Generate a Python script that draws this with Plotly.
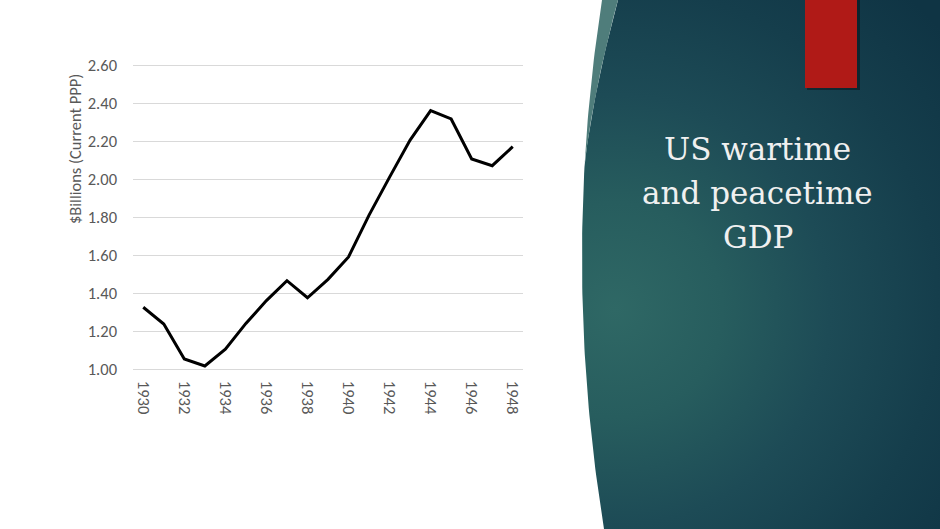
import plotly.graph_objects as go
import numpy as np

# ---------------- data ----------------
years = list(range(1930, 1949))
gdp = [1.325, 1.237, 1.053, 1.016, 1.104, 1.240, 1.360, 1.465, 1.375, 1.472,
       1.590, 1.810, 2.010, 2.205, 2.360, 2.316, 2.105, 2.070, 2.170]
year_ticks = [1930, 1932, 1934, 1936, 1938, 1940, 1942, 1944, 1946, 1948]
year_tick_labels = [str(y) for y in year_ticks]
y_ticks = [1.0, 1.2, 1.4, 1.6, 1.8, 2.0, 2.2, 2.4, 2.6]
y_tick_labels = ["1.00", "1.20", "1.40", "1.60", "1.80", "2.00", "2.20", "2.40", "2.60"]
y_title = "$Billions (Current PPP)"
title_lines = ["US wartime", "and peacetime", "GDP"]

W, H = 940, 529
TXT = "#595959"
FONT = "Calibri, Carlito, Lato, sans-serif"

# y axis: 1.00 at 369 px, 2.60 at 65 px; range padded so edge gridlines show
Y0, Y1 = 0.98, 2.62
PPU = (369.0 - 65.0) / 1.6
top_px = 65.0 - (Y1 - 2.6) * PPU
bot_px = 369.0 + (1.0 - Y0) * PPU

# ---------------- decorative panel geometry (pixel space) ----------------
t = np.linspace(0, 1, 80)
p0, c, p2 = (602.0, 0.0), (561.0, 264.0), (604.0, 529.0)
ox = (1 - t) ** 2 * p0[0] + 2 * t * (1 - t) * c[0] + t ** 2 * p2[0]
oy = (1 - t) ** 2 * p0[1] + 2 * t * (1 - t) * c[1] + t ** 2 * p2[1]
strip_w = 16 * np.clip(1 - oy / 165.0, 0, None) ** 1.2
ix = ox + strip_w

cx, cy, r = 615.0, 310.0, 430.0
px = list(ix) + [p2[0], cx + r, cx + r, cx - r, cx - r, ix[0]]
py = list(oy) + [cy + r, cy + r, cy - r, cy - r, -40, -40]

mask = oy <= 170
sx = list(ox[mask]) + list(ix[mask][::-1])
sy = list(oy[mask]) + list(oy[mask][::-1])

fig = go.Figure()

fig.add_trace(go.Scatter(
    x=px, y=py, xaxis="x2", yaxis="y2", mode="lines", fill="toself",
    line=dict(width=0, color="rgba(0,0,0,0)"),
    fillgradient=dict(type="radial", colorscale=[
        [0.0, "#2f6865"], [0.25, "#275d5e"], [0.5, "#1d4b56"],
        [0.75, "#153e4c"], [1.0, "#0f3444"]]),
    hoverinfo="skip", showlegend=False))

fig.add_trace(go.Scatter(
    x=sx, y=sy, xaxis="x2", yaxis="y2", mode="lines", fill="toself",
    line=dict(width=0, color="rgba(0,0,0,0)"),
    fillcolor="#4f7d7b",
    hoverinfo="skip", showlegend=False))

fig.add_trace(go.Scatter(
    x=years, y=gdp, mode="lines", xaxis="x", yaxis="y",
    line=dict(color="#000000", width=3), showlegend=False))

fig.add_shape(type="rect", xref="x2", yref="y2", x0=807, x1=860, y0=-5, y1=90,
              fillcolor="rgba(0,0,0,0.35)", line=dict(width=0))
fig.add_shape(type="rect", xref="x2", yref="y2", x0=805, x1=857, y0=-5, y1=88,
              fillcolor="#b01a17", line=dict(width=0))

for txt, yc in zip(title_lines, [149, 193, 237]):
    fig.add_annotation(x=757.5, y=yc, xref="x2", yref="y2", text=txt, showarrow=False,
                       xanchor="center", yanchor="middle",
                       font=dict(family="DejaVu Serif", size=31, color="#f0f0f0"))

fig.add_annotation(x=75, y=149, xref="x2", yref="y2", text=y_title, showarrow=False,
                   textangle=-90, xanchor="center", yanchor="middle",
                   font=dict(family=FONT, size=16.5, color=TXT))

fig.update_layout(
    width=W, height=H, margin=dict(l=0, r=0, t=0, b=0, pad=0, autoexpand=False),
    paper_bgcolor="white", plot_bgcolor="rgba(0,0,0,0)", showlegend=False,
    xaxis=dict(domain=[133 / W, 523 / W], range=[1929.5, 1948.5], anchor="y",
               tickmode="array", tickvals=year_ticks, ticktext=year_tick_labels,
               tickangle=90, showgrid=False, zeroline=False, showline=False,
               ticks="", ticklabelstandoff=7, automargin=False,
               tickfont=dict(family=FONT, size=16.5, color=TXT)),
    yaxis=dict(domain=[1 - bot_px / H, 1 - top_px / H], range=[Y0, Y1], anchor="x",
               tickmode="array", tickvals=y_ticks, ticktext=y_tick_labels,
               showgrid=True, gridcolor="#d9d9d9", gridwidth=1, zeroline=False,
               showline=False, ticks="", ticklabelstandoff=15, automargin=False,
               tickfont=dict(family=FONT, size=16.5, color=TXT)),
    xaxis2=dict(domain=[0, 1], range=[0, W], anchor="y2", visible=False,
                fixedrange=True, automargin=False),
    yaxis2=dict(domain=[0, 1], range=[H, 0], anchor="x2", visible=False,
                fixedrange=True, automargin=False),
)

fig.write_html("out.html", config={"displayModeBar": False},
               post_script="document.body.style.margin='0';"
                           "document.body.style.overflow='hidden';"
                           "document.documentElement.style.overflow='hidden';")
